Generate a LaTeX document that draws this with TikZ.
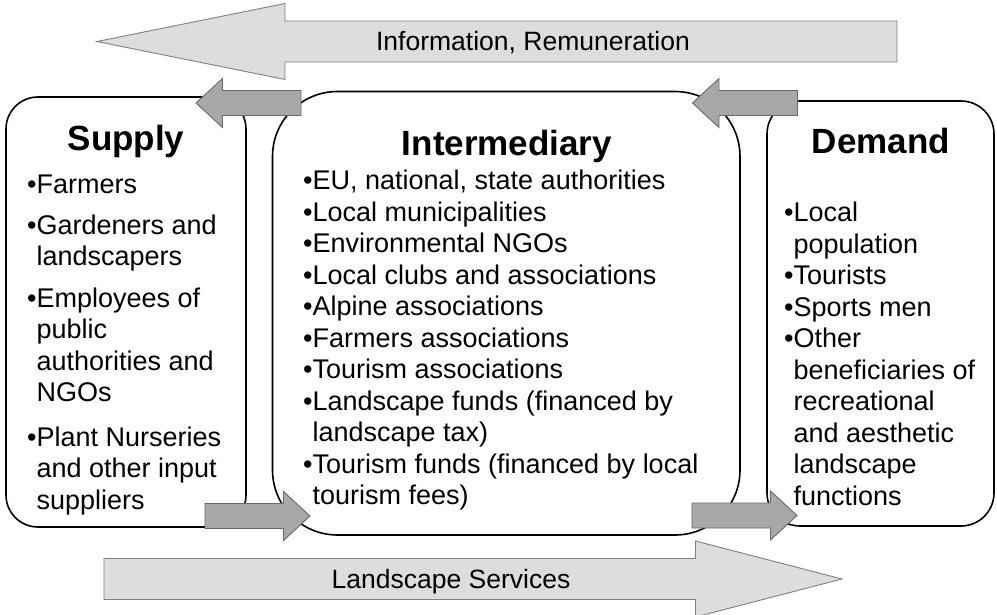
\documentclass[tikz,border=0pt]{standalone}
\usepackage{fontspec}
\setmainfont{Liberation Sans}
\definecolor{bigfill}{HTML}{DDDDDD}
\definecolor{bigline}{HTML}{7F7F7F}
\definecolor{smfill}{HTML}{A8A8A8}
\definecolor{smline}{HTML}{6A6A6A}
\begin{document}
\begin{tikzpicture}[x=1pt,y=-1pt,
  box/.style={draw=black, line width=1.6pt, inner sep=0pt, fill=white},
  title/.style={anchor=base, inner sep=0pt, font=\fontsize{35}{40}\selectfont\bfseries},
  body/.style={anchor=base west, inner sep=0pt, font=\fontsize{27}{31.5}\selectfont},
  biglabel/.style={anchor=base, inner sep=0pt, font=\fontsize{26.5}{30}\selectfont},
  bigarrow/.style={fill=bigfill, draw=bigline, line width=0.9pt, line join=miter},
  smallarrowstyle/.style={fill=smfill, draw=smline, line width=0.9pt, line join=miter},
  smallarr/.pic={\path[smallarrowstyle] (0,0) -- (-26.5,-24.5) -- (-26.5,-12.5) -- (-105,-12.5)
      -- (-105,12.5) -- (-26.5,12.5) -- (-26.5,24.5) -- cycle;}
]
\useasboundingbox (0,0) rectangle (997,615);

% boxes
\node[box, rounded corners=32pt, minimum width=240pt, minimum height=430pt] (supply) at (126,312) {};
\node[box, rounded corners=65pt, minimum width=467.5pt, minimum height=443.5pt] (inter) at (506.25,313.25) {};
\node[box, rounded corners=33pt, minimum width=227pt, minimum height=425pt] (demand) at (880.5,313.5) {};

% titles
\node[title] (tsupply) at (126,151) {Supply};
\node[title] (tinter) at (507,155.5) {Intermediary};
\node[title] (tdemand) at (881,154) {Demand};

% supply items
\node[body] (s1) at (27,194) {•Farmers};
\node[body] (s2) at (27,234) {\begin{tabular}[t]{@{}l@{}l@{}}•&Gardeners and\\&landscapers\end{tabular}};
\node[body] (s3) at (27,307) {\begin{tabular}[t]{@{}l@{}l@{}}•&Employees of\\&public\\&authorities and\\&NGOs\end{tabular}};
\node[body] (s4) at (27,446) {\begin{tabular}[t]{@{}l@{}l@{}}•&Plant Nurseries\\&and other input\\&suppliers\end{tabular}};

% intermediary items
\node[body] (ilist) at (303,190) {\begin{tabular}[t]{@{}l@{}l@{}}
•&EU, national, state authorities\\
•&Local municipalities\\
•&Environmental NGOs\\
•&Local clubs and associations\\
•&Alpine associations\\
•&Farmers associations\\
•&Tourism associations\\
•&Landscape funds (financed by\\
&landscape tax)\\
•&Tourism funds (financed by local\\
&tourism fees)\end{tabular}};

% demand items
\node[body] (dlist) at (784,222) {\begin{tabular}[t]{@{}l@{}l@{}}
•&Local\\
&population\\
•&Tourists\\
•&Sports men\\
•&Other\\
&beneficiaries of\\
&recreational\\
&and aesthetic\\
&landscape\\
&functions\end{tabular}};

% small arrows
\pic[xscale=-1] at (196,103) {smallarr};
\pic[xscale=-1] at (692.5,103) {smallarr};
\pic at (310,516) {smallarr};
\pic at (797,515.5) {smallarr};

% big arrows
\path[bigarrow] (97,41.5) -- (285,3.5) -- (285,21) -- (897,21) -- (897,62) -- (285,62) -- (285,79.5) -- cycle;
\node[biglabel] (info) at (533,51) {Information, Remuneration};

\path[bigarrow] (842,579) -- (695.5,541) -- (695.5,558.5) -- (104,558.5) -- (104,599.5) -- (695.5,599.5) -- (695.5,617) -- cycle;
\node[biglabel] (land) at (451,588) {Landscape Services};
\end{tikzpicture}
\end{document}
